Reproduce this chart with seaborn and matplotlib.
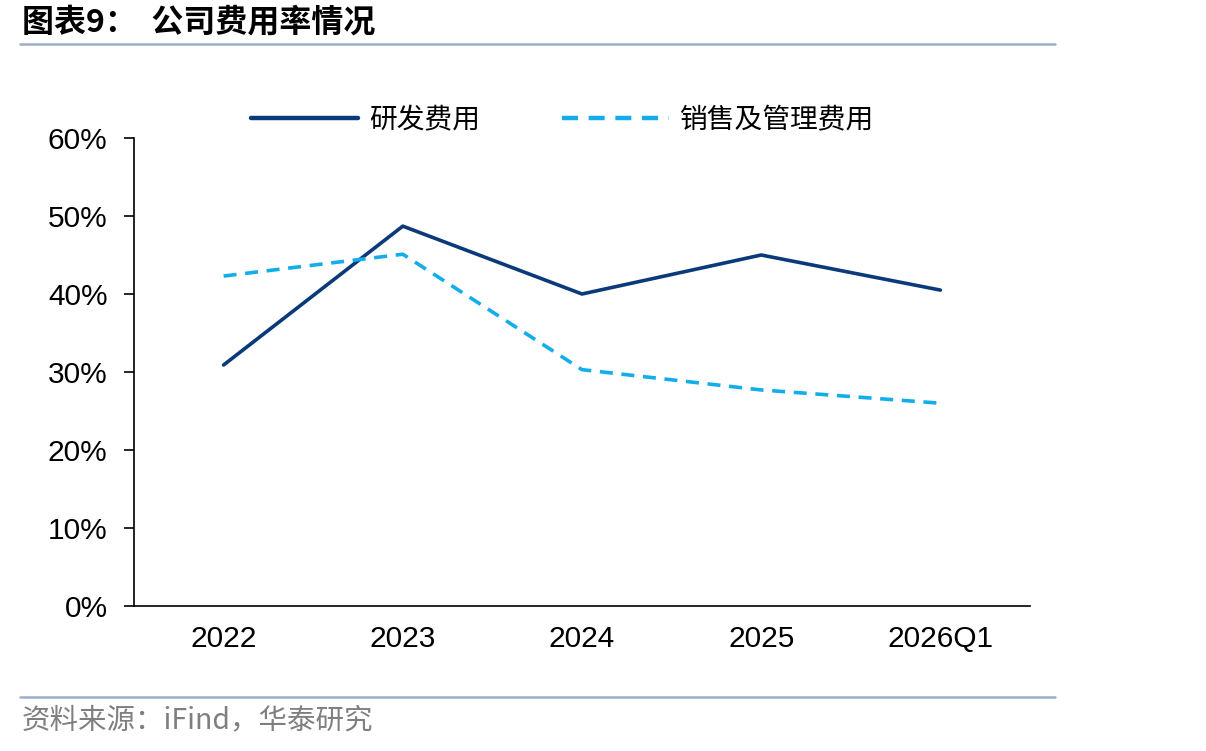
import matplotlib
matplotlib.use("Agg")
import matplotlib.pyplot as plt
import seaborn as sns
import pandas as pd
from matplotlib.lines import Line2D

categories = ["2022", "2023", "2024", "2025", "2026Q1"]
rd_expense = [30.9, 48.7, 40.0, 45.0, 40.5]
sga_expense = [42.3, 45.1, 30.3, 27.7, 26.0]
series_names = ["研发费用", "销售及管理费用"]
y_ticks = [0, 10, 20, 30, 40, 50, 60]
title = "图表9：  公司费用率情况"
source = "资料来源：iFind，华泰研究"

sns.set_style("white")
plt.rcParams['font.family'] = ['Liberation Sans', 'Noto Sans CJK SC', 'DejaVu Sans']
plt.rcParams['text.color'] = 'black'
plt.rcParams['xtick.color'] = 'black'
plt.rcParams['ytick.color'] = 'black'

W, H = 1206, 751
fig = plt.figure(figsize=(W / 100, H / 100), dpi=100)
ax = fig.add_axes([134 / W, (H - 606) / H, (1030 - 134) / W, (606 - 138) / H])

df = pd.DataFrame({"cat": categories, "rd": rd_expense, "sga": sga_expense})
navy = "#0A3A7A"
light = "#13AEEA"
sns.lineplot(data=df, x="cat", y="rd", ax=ax, color=navy, lw=2.6, sort=False)
sns.lineplot(data=df, x="cat", y="sga", ax=ax, color=light, lw=2.6, sort=False,
             linestyle=(0, (3.6, 2.4)))

ax.set_xlim(-0.5, len(categories) - 0.5)
ax.set_ylim(0, 60)
ax.set_yticks(y_ticks)
ax.set_yticklabels([f"{v}%" for v in y_ticks], fontsize=21.5)
ax.set_xticks(range(len(categories)))
ax.set_xticklabels(categories, fontsize=21.5)
ax.set_xticks([i - 0.5 for i in range(len(categories) + 1)], minor=True)
ax.tick_params(axis="x", which="major", length=0, pad=14, labelcolor="black")
ax.tick_params(axis="x", which="minor", length=6, width=1.2, direction="out", color="black")
ax.tick_params(axis="y", length=7, width=1.2, direction="out", color="black", pad=12,
               left=True, labelcolor="black")
ax.set_xlabel("")
ax.set_ylabel("")
for s in ["top", "right"]:
    ax.spines[s].set_visible(False)
for s in ["left", "bottom"]:
    ax.spines[s].set_color("black")
    ax.spines[s].set_linewidth(1.2)

handles = [Line2D([], [], color=navy, lw=3.2),
           Line2D([], [], color=light, lw=3.2, linestyle=(0, (3.6, 2.4)))]
fig.legend(handles, series_names, loc="center left", bbox_to_anchor=(226 / W, 1 - 120 / H),
           ncol=2, frameon=False, handlelength=3.85, handletextpad=0.4, columnspacing=2.95,
           prop={"family": ["Noto Sans CJK SC"], "size": 20})

fig.text(22 / W, 1 - 22 / H, title, fontsize=23, fontweight="bold",
         family=["Noto Sans CJK SC"], va="center", ha="left")
fig.add_artist(Line2D([20 / W, 1055 / W], [1 - 44 / H, 1 - 44 / H], color="#9AB0C8", lw=1.8))
fig.add_artist(Line2D([20 / W, 1055 / W], [1 - 697 / H, 1 - 697 / H], color="#9AB0C8", lw=1.8))
fig.text(22 / W, 1 - 720 / H, source, fontsize=20.5, color="#7F7F7F",
         family=["Noto Sans CJK SC"], va="center", ha="left")

fig.savefig("out.png", dpi=100)
